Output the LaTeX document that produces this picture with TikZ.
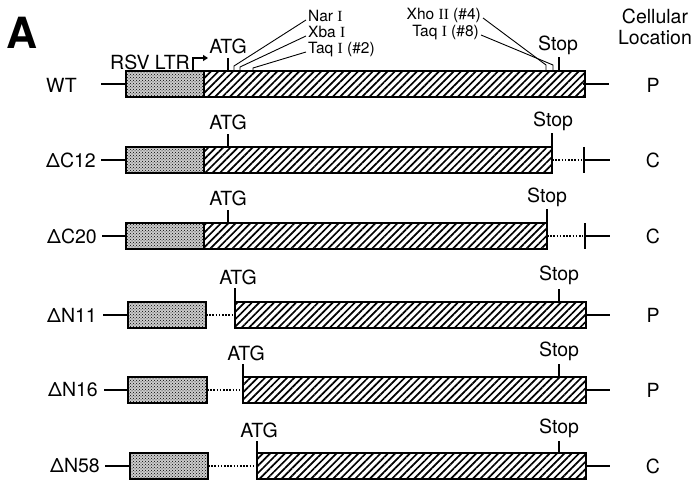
\documentclass[tikz,border=0pt]{standalone}
\usepackage{fontspec}
\setmainfont{TeX Gyre Heros}
\newfontfamily\serifI{Liberation Serif}
\usetikzlibrary{patterns,patterns.meta,arrows.meta}
\begin{document}
\begin{tikzpicture}[x=1pt,y=-1pt,
 genebox/.style={draw, line width=1.8pt, minimum height=26pt, inner sep=0pt, outer sep=0pt},
 ltr/.style={genebox, preaction={fill=gray!40}, pattern=crosshatch dots},
 cds/.style={genebox, pattern={Lines[angle=45,distance=5.2pt,line width=1.7pt]}},
 wire/.style={line width=1.8pt},
 dotwire/.style={line width=1.6pt, dash pattern=on 1.6pt off 1.6pt},
 tickln/.style={line width=1.8pt},
 leader/.style={line width=0.9pt},
 lab/.style={font=\fontsize{19.5}{19.5}\selectfont, inner sep=0pt},
 slab/.style={font=\fontsize{15.5}{15.5}\selectfont, inner sep=0pt, text height=0.72em, text depth=0.18em},
]
\useasboundingbox (0,0) rectangle (693,481);

% panel letter and header
\node[font=\fontsize{43}{43}\selectfont\bfseries, inner sep=0pt] (lblA) at (22,33) {A};
\node[lab] (cell1) at (655,16) {Cellular};
\node[lab] (cell2) at (655,38) {Location};

% ---------------- WT ----------------
\node[lab, anchor=west] (wtN) at (46,85) {WT};
\coordinate (wtA) at (101,84);
\coordinate (wtB) at (609,84);
\draw[wire] (wtA) -- (128,84);
\draw[wire] (583,84) -- (wtB);
\node[ltr, minimum width=78pt] (wtL) at (165,84) {};
\node[cds, minimum width=381pt] (wtC) at (394.5,84) {};
\node[lab] (wtP) at (653,85) {P};
\node[lab] (rsv) at (150,62) {RSV LTR};
\coordinate (rsv0) at (193,71); \coordinate (rsv1) at (193,58); \coordinate (rsv2) at (208,58);
\draw[line width=1.5pt, -{Triangle[length=5pt,width=6pt]}] (rsv0) -- (rsv1) -- (rsv2);
\coordinate (wtT0) at (228,71); \coordinate (wtT1) at (228,58);
\draw[tickln] (wtT0) -- (wtT1);
\node[lab] (wtATG) at (228,46) {ATG};
\coordinate (wtS0) at (559,71); \coordinate (wtS1) at (559,57);
\draw[tickln] (wtS0) -- (wtS1);
\node[lab] (wtStop) at (558,45) {Stop};
\node[slab, anchor=west] (nar) at (308,19) {Nar {\serifI I}};
\node[slab, anchor=west] (xba) at (308,35) {Xba {\serifI I}};
\node[slab, anchor=west] (taq2) at (308,51) {Taq {\serifI I} (\#2)};
\coordinate (nar1) at (234,66); \coordinate (nar2) at (234,71);
\coordinate (xba1) at (240,67); \coordinate (xba2) at (240,71);
\coordinate (taq21) at (253,68); \coordinate (taq22) at (253,71);
\draw[leader] ([xshift=-2pt,yshift=-1pt]nar.west) -- (nar1) -- (nar2);
\draw[leader] ([xshift=-2pt,yshift=-1pt]xba.west) -- (xba1) -- (xba2);
\draw[leader] ([xshift=-2pt,yshift=-1pt]taq2.west) -- (taq21) -- (taq22);
\node[slab, anchor=east] (xho) at (481,17) {Xho {\serifI II} (\#4)};
\node[slab, anchor=east] (taq8) at (479,34) {Taq {\serifI I} (\#8)};
\coordinate (xho1) at (546,65); \coordinate (xho2) at (546,71);
\coordinate (taq81) at (553,65); \coordinate (taq82) at (553,71);
\draw[leader] ([xshift=2pt,yshift=-1pt]xho.east) -- (xho1) -- (xho2);
\draw[leader] ([xshift=2pt,yshift=-1pt]taq8.east) -- (taq81) -- (taq82);

% ---------------- dC12 ----------------
\node[lab, anchor=east] (c12N) at (96,160) {ΔC12};
\coordinate (c12A) at (101,160);
\draw[wire] (c12A) -- (128,160);
\node[ltr, minimum width=78pt] (c12L) at (165,160) {};
\node[cds, minimum width=348pt] (c12C) at (378,160) {};
\coordinate (c12D) at (583,160);
\draw[dotwire] (c12C.east) -- (c12D);
\coordinate (c12B0) at (584,147); \coordinate (c12B1) at (584,173); \coordinate (c12B) at (610,160);
\draw[wire] (c12B0) -- (c12B1);
\draw[wire] (c12B0 |- c12B) -- (c12B);
\node[lab] (c12P) at (653,160) {C};
\coordinate (c12T0) at (228,147); \coordinate (c12T1) at (228,134);
\draw[tickln] (c12T0) -- (c12T1);
\node[lab] (c12ATG) at (228,122) {ATG};
\coordinate (c12S0) at (552,147); \coordinate (c12S1) at (552,133);
\draw[tickln] (c12S0) -- (c12S1);
\node[lab] (c12Stop) at (553,121) {Stop};

% ---------------- dC20 ----------------
\node[lab, anchor=east] (c20N) at (97,236) {ΔC20};
\coordinate (c20A) at (102,236);
\draw[wire] (c20A) -- (128,236);
\node[ltr, minimum width=78pt] (c20L) at (165,236) {};
\node[cds, minimum width=343pt] (c20C) at (375.5,236) {};
\coordinate (c20D) at (583,236);
\draw[dotwire] (c20C.east) -- (c20D);
\coordinate (c20B0) at (585,223); \coordinate (c20B1) at (585,249); \coordinate (c20B) at (610,236);
\draw[wire] (c20B0) -- (c20B1);
\draw[wire] (c20B0 |- c20B) -- (c20B);
\node[lab] (c20P) at (653,236) {C};
\coordinate (c20T0) at (228,223); \coordinate (c20T1) at (228,210);
\draw[tickln] (c20T0) -- (c20T1);
\node[lab] (c20ATG) at (228,198) {ATG};
\coordinate (c20S0) at (547,223); \coordinate (c20S1) at (547,209);
\draw[tickln] (c20S0) -- (c20S1);
\node[lab] (c20Stop) at (547,197) {Stop};

% ---------------- dN11 ----------------
\node[lab, anchor=east] (n11N) at (97,315) {ΔN11};
\coordinate (n11A) at (103,315);
\draw[wire] (n11A) -- (130,315);
\node[ltr, minimum width=78pt] (n11L) at (167,315) {};
\node[cds, minimum width=351pt] (n11C) at (410.5,315) {};
\coordinate (n11D) at (232,315);
\draw[dotwire] (n11L.east) -- (n11D);
\coordinate (n11B) at (610,315);
\draw[wire] (n11C.east) -- (n11B);
\node[lab] (n11P) at (653,315) {P};
\coordinate (n11T0) at (235,302); \coordinate (n11T1) at (235,288);
\draw[tickln] (n11T0) -- (n11T1);
\node[lab] (n11ATG) at (238,277) {ATG};
\coordinate (n11S0) at (559,302); \coordinate (n11S1) at (559,289);
\draw[tickln] (n11S0) -- (n11S1);
\node[lab] (n11Stop) at (559,275) {Stop};

% ---------------- dN16 ----------------
\node[lab, anchor=east] (n16N) at (98,390) {ΔN16};
\coordinate (n16A) at (104,390);
\draw[wire] (n16A) -- (130,390);
\node[ltr, minimum width=79pt] (n16L) at (167.5,390) {};
\node[cds, minimum width=343pt] (n16C) at (414.5,390) {};
\coordinate (n16D) at (240,390);
\draw[dotwire] (n16L.east) -- (n16D);
\coordinate (n16B) at (610,390);
\draw[wire] (n16C.east) -- (n16B);
\node[lab] (n16P) at (653,390) {P};
\coordinate (n16T0) at (243,377); \coordinate (n16T1) at (243,364);
\draw[tickln] (n16T0) -- (n16T1);
\node[lab] (n16ATG) at (246,353) {ATG};
\coordinate (n16S0) at (559,377); \coordinate (n16S1) at (559,364);
\draw[tickln] (n16S0) -- (n16S1);
\node[lab] (n16Stop) at (559,351) {Stop};

% ---------------- dN58 ----------------
\node[lab, anchor=east] (n58N) at (100,466) {ΔN58};
\coordinate (n58A) at (105,466);
\draw[wire] (n58A) -- (132,466);
\node[ltr, minimum width=78pt] (n58L) at (169,466) {};
\node[cds, minimum width=329pt] (n58C) at (421.5,466) {};
\coordinate (n58D) at (255,466);
\draw[dotwire] (n58L.east) -- (n58D);
\coordinate (n58B) at (610,466);
\draw[wire] (n58C.east) -- (n58B);
\node[lab] (n58P) at (653,466) {C};
\coordinate (n58T0) at (257,453); \coordinate (n58T1) at (257,441);
\draw[tickln] (n58T0) -- (n58T1);
\node[lab] (n58ATG) at (259,430) {ATG};
\coordinate (n58S0) at (559,453); \coordinate (n58S1) at (559,441);
\draw[tickln] (n58S0) -- (n58S1);
\node[lab] (n58Stop) at (559,428) {Stop};
\end{tikzpicture}
\end{document}
